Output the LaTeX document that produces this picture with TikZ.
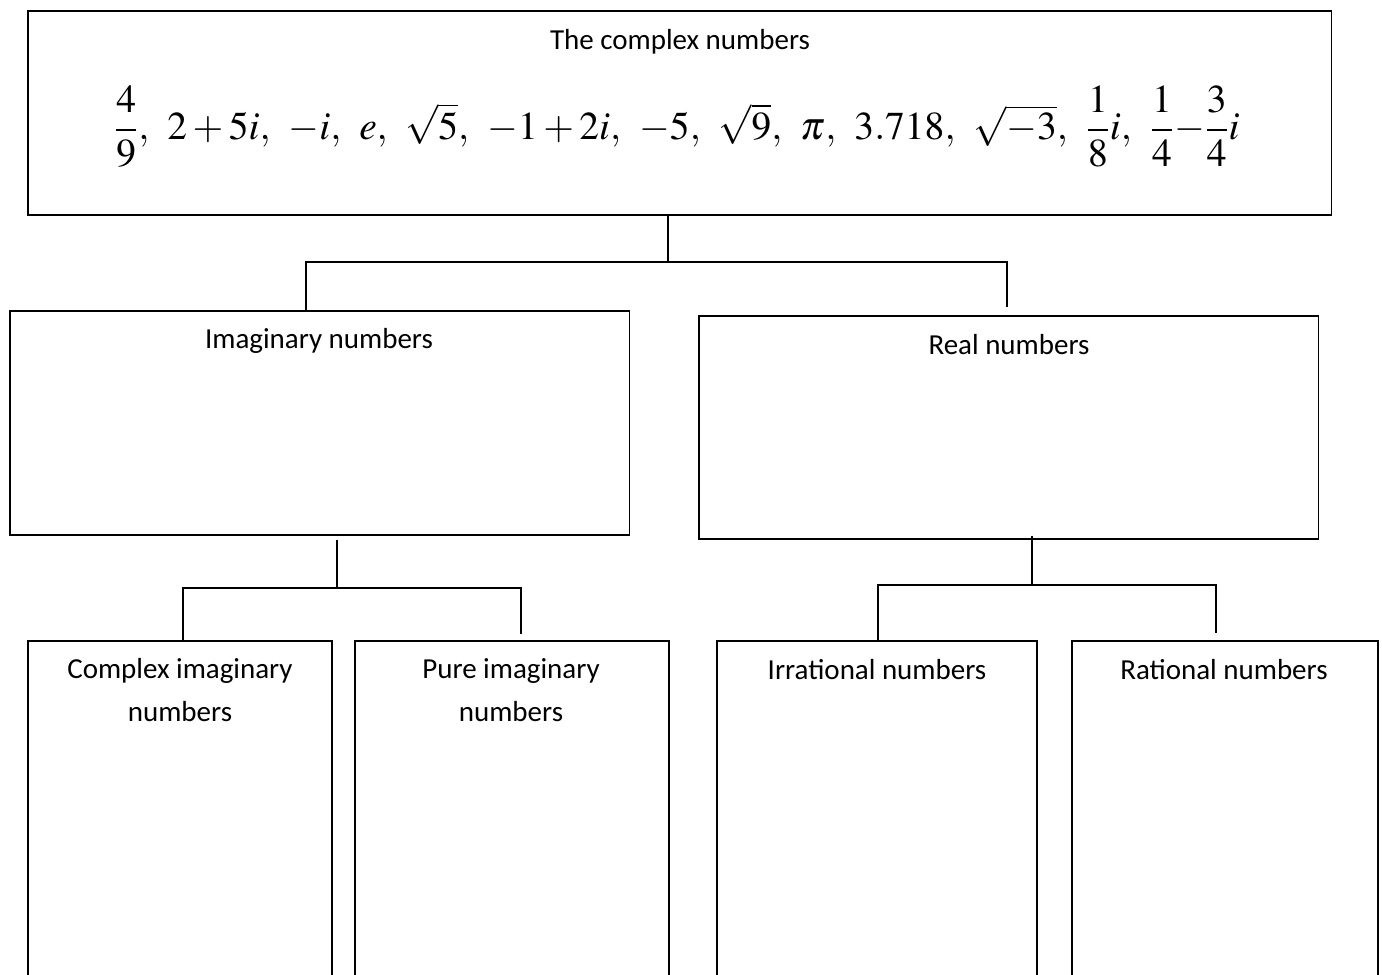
\documentclass[tikz,border=0pt]{standalone}
\usepackage{amsmath}
\usepackage{mathptmx}
\usepackage[no-math]{fontspec}
\setmainfont{Carlito}
\usetikzlibrary{positioning}
\newcommand{\sep}{,\hspace{7.8pt}}

\begin{document}
\begin{tikzpicture}[x=0.02cm,y=-0.02cm,
  font=\fontsize{16.5}{24.5}\selectfont,
  box/.style={draw, line width=0.9pt, anchor=north west, inner sep=0pt},
  lbl/.style={align=center, inner sep=0pt},
  link/.style={line width=1pt}]
\useasboundingbox (0,0) rectangle (1382,974);
\clip (0,0) rectangle (1382,974);
% boxes
\node[box, minimum width=26.08cm, minimum height=4.08cm] (top) at (27,10) {};
\node[box, minimum width=12.4cm, minimum height=4.48cm] (imag) at (9,310) {};
\node[box, minimum width=12.4cm, minimum height=4.46cm] (real) at (698,315) {};
\node[box, minimum width=6.08cm, minimum height=7.4cm] (cimag) at (27,640) {};
\node[box, minimum width=6.28cm, minimum height=7.4cm] (pimag) at (354,640) {};
\node[box, minimum width=6.4cm, minimum height=7.4cm] (irr) at (716,640) {};
\node[box, minimum width=6.12cm, minimum height=7.4cm] (rat) at (1071,640) {};
% labels
\node[lbl] (toptxt) at (680,42) {The complex numbers};
\node[lbl] (nums) at (677,127) {\fontsize{22.5}{26}\selectfont
  $\dfrac{4}{9}\sep 2+5i\sep -i\sep e\sep \sqrt{5}\sep -1+2i\sep -5\sep \sqrt{9}\sep
   \pi\sep 3.718\sep \sqrt{-3}\sep \dfrac{1}{8}i\sep \dfrac{1}{4}{-}\dfrac{3}{4}i$};
\node[lbl] (imagtxt) at (319,341) {Imaginary numbers};
\node[lbl] (realtxt) at (1009,345) {Real numbers};
\node[lbl, anchor=north] (cimagtxt) at (180,658) {Complex imaginary\\numbers};
\node[lbl, anchor=north] (pimagtxt) at (511,658) {Pure imaginary\\numbers};
\node[lbl] (irrtxt) at (877,670) {Irrational numbers};
\node[lbl] (rattxt) at (1224,670) {Rational numbers};
% connectors
\coordinate (jt) at (668,262);
\coordinate (jl) at (306,262);
\coordinate (jr) at (1007,262);
\draw[link] (top.south -| jt) -- (jt);
\draw[link] (imag.north -| jl) -- (jl) -- (jr) -- ++(0,45);
\coordinate (ji) at (337,588);
\coordinate (jil) at (183,588);
\coordinate (jir) at (521,588);
\draw[link] (imag.south -| ji) ++(0,4) -- (ji);
\draw[link] (cimag.north -| jil) -- (jil) -- (jir) -- ++(0,46);
\coordinate (jre) at (1032,585);
\coordinate (jrl) at (878,585);
\coordinate (jrr) at (1216,585);
\draw[link] (real.south -| jre) ++(0,-4) -- (jre);
\draw[link] (irr.north -| jrl) -- (jrl) -- (jrr) -- ++(0,48);
\end{tikzpicture}
\end{document}
